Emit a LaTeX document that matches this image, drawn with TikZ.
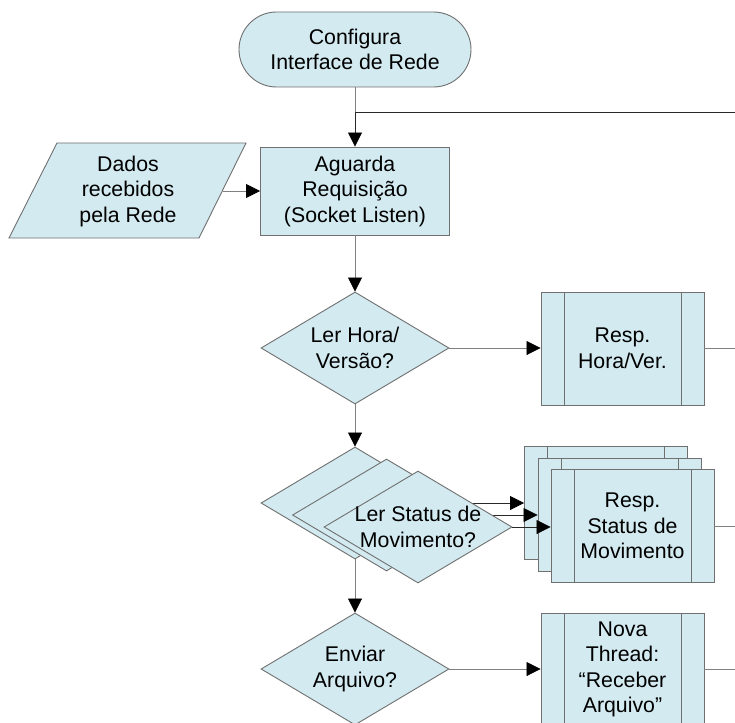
\documentclass[tikz,border=0pt]{standalone}
\usepackage{fontspec}
\setmainfont{Liberation Sans}
\usetikzlibrary{shapes.geometric,arrows.meta}
\definecolor{fillc}{RGB}{210,234,240}
\definecolor{linec}{RGB}{112,112,112}
\definecolor{conc}{RGB}{128,128,128}
\definecolor{darkc}{RGB}{40,40,40}
\begin{document}
\begin{tikzpicture}[x=1pt,y=-1pt,
  shp/.style={draw=linec, fill=fillc, line width=0.9pt, inner sep=0pt},
  txt/.style={align=center, font=\fontsize{21.3}{25.5}\selectfont, inner sep=0pt},
  term/.style={shp, txt, rectangle, rounded corners=37.5pt, minimum width=232pt, minimum height=75pt},
  proc/.style={shp, txt, rectangle, minimum width=189pt, minimum height=88pt},
  dia/.style={shp, diamond, minimum width=188pt, minimum height=112pt},
  sub/.style={shp, txt, rectangle, minimum width=163pt, minimum height=113pt,
    path picture={\draw[linec, line width=0.9pt]
      ([xshift=23pt]path picture bounding box.north west) -- ([xshift=23pt]path picture bounding box.south west)
      ([xshift=-23pt]path picture bounding box.north east) -- ([xshift=-23pt]path picture bounding box.south east);}},
  con/.style={draw=conc, line width=0.8pt},
  blk/.style={draw=darkc, line width=0.8pt},
  arr/.style={-{Triangle[length=14pt, width=14pt, color=black]}}
]
\useasboundingbox (0,0) rectangle (735,722);
\fill[white] (0,0) rectangle (735,722);
\clip (0,0) rectangle (735,722);

% top
\node[term] (t) at (355,49.5) {Configura\\Interface de Rede};
\node[proc] (p1) at (355,191) {Aguarda\\Requisição\\(Socket Listen)};
\filldraw[shp] (9,238) -- (57,143) -- (246,143) -- (199,238) -- cycle;
\node[txt] (pd) at (128,191) {Dados\\recebidos\\pela Rede};
\coordinate (pdr) at (222.5,191);
\coordinate (jn) at (355,112);
\coordinate (loopin) at (745,112);
\draw[con] (t.south) -- (jn);
\draw[blk, arr] (loopin) -- (jn) -- (p1.north);
\draw[con, arr] (pdr) -- (p1.west);

% decision 1
\node[dia] (d1) at (355,348) {};
\node[txt] (d1t) at (d1) {Ler Hora/\\Versão?};
\node[sub] (b1) at (622.5,348.5) {Resp.\\Hora/Ver.};
\coordinate (o1) at (745,348.5);
\draw[con, arr] (p1.south) -- (d1.north);
\draw[con, arr] (d1.east) -- (b1.west |- d1.east);
\draw[con] (b1.east) -- (o1);

% decision 2 (stacked)
\node[sub] (b2a) at (606,502.5) {};
\node[dia] (d2a) at (355,503) {};
\draw[blk, arr] (d2a.east) -- (b2a.west |- d2a.east);
\node[sub] (b2b) at (619.5,514.5) {};
\node[dia] (d2b) at (386.5,515) {};
\draw[blk, arr] (d2b.east) -- (b2b.west |- d2b.east);
\node[sub] (b2c) at (632.5,526) {Resp.\\Status de\\Movimento};
\node[dia] (d2c) at (418,527) {};
\node[txt] (d2t) at (d2c) {Ler Status de\\Movimento?};
\draw[blk, arr] (d2c.east) -- (b2c.west |- d2c.east);
\coordinate (o2) at (745,526);
\draw[con] (b2c.east) -- (o2);
\draw[con, arr] (d1.south) -- (d2a.north);

% decision 3
\node[dia] (d3) at (355,669) {};
\node[txt] (d3t) at (d3) {Enviar\\Arquivo?};
\node[sub] (b3) at (622.5,669.5) {Nova\\Thread:\\“Receber\\Arquivo”};
\coordinate (o3) at (745,669.5);
\draw[con, arr] (d2a.south) -- (d3.north);
\draw[con, arr] (d3.east) -- (b3.west |- d3.east);
\draw[con] (b3.east) -- (o3);
\end{tikzpicture}
\end{document}
